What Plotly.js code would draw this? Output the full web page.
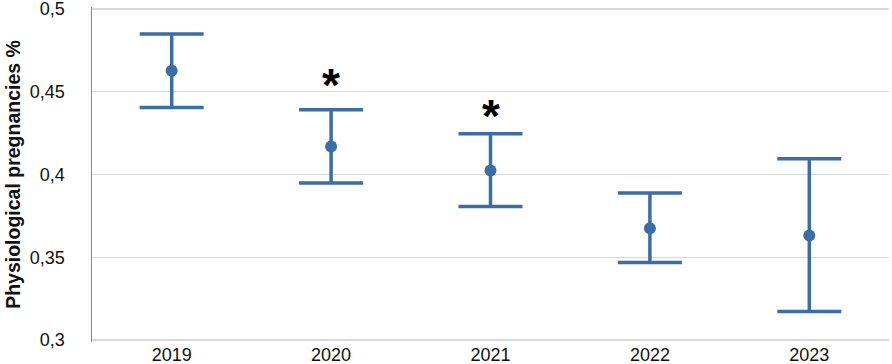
<!DOCTYPE html>
<html>
<head>
<meta charset="utf-8">
<script src="https://cdn.plot.ly/plotly-3.0.1.min.js"></script>
<style>
  html, body { margin: 0; padding: 0; background: #fff; }
  #plot { width: 892px; height: 364px; }
</style>
</head>
<body>
<div id="plot"></div>
<script>
// --- dados ---
const years = ["2019", "2020", "2021", "2022", "2023"];
const meanValues = [0.4627, 0.4169, 0.4024, 0.3675, 0.3631];
const upperValues = [0.4849, 0.4391, 0.4246, 0.3888, 0.4095];
const lowerValues = [0.4405, 0.3948, 0.3807, 0.3468, 0.3172];

// asteriscos (diferença significativa)
const starYears = ["2020", "2021"];
const starValues = [0.4542, 0.4355];

const yTickVals = [0.3, 0.35, 0.4, 0.45, 0.5];
const yTickText = ["0,3", "0,35", "0,4", "0,45", "0,5"];

const blue = "#3b6ea5";
const yRange = [0.2988, 0.5012];

// posições das categorias no eixo x
const xPos = years.map((_, i) => i);

const trace = {
    x: xPos,
    y: meanValues,
    type: "scatter",
    mode: "markers",
    marker: { color: blue, size: 12 },
    error_y: {
        type: "data",
        symmetric: false,
        array: upperValues.map((u, i) => u - meanValues[i]),
        arrayminus: meanValues.map((m, i) => m - lowerValues[i]),
        color: blue,
        thickness: 3.5,
        width: 32
    },
    hoverinfo: "y"
};

const layout = {
    width: 892,
    height: 364,
    margin: { l: 92, r: 3, t: 7, b: 22 },
    paper_bgcolor: "#fff",
    plot_bgcolor: "#fff",
    showlegend: false,
    font: { family: "Liberation Sans, Arial, sans-serif", color: "#111" },
    xaxis: {
        range: [-0.5, years.length - 0.5],
        tickvals: xPos,
        ticktext: years,
        showgrid: false,
        showline: false,
        zeroline: false,
        ticks: "",
        tickfont: { size: 18 },
        fixedrange: true
    },
    // eixo principal: rótulos afastados do eixo (marcas invisíveis)
    yaxis: {
        range: yRange,
        tickvals: yTickVals,
        ticktext: yTickText,
        showgrid: true,
        gridcolor: "#d9d9d9",
        gridwidth: 1.2,
        zeroline: false,
        showline: true,
        linecolor: "#888",
        linewidth: 1.5,
        ticks: "outside",
        ticklen: 22,
        tickcolor: "rgba(0,0,0,0)",
        tickfont: { size: 18 },
        ticklabeloverflow: "allow",
        title: {
            text: "<b>Physiological pregnancies %</b>",
            font: { size: 19.5 },
            standoff: 4
        },
        fixedrange: true
    },
    // eixo sobreposto só para as marcas curtas
    yaxis2: {
        overlaying: "y",
        side: "left",
        anchor: "x",
        range: yRange,
        tickvals: yTickVals,
        showticklabels: false,
        showgrid: false,
        zeroline: false,
        showline: false,
        ticks: "outside",
        ticklen: 5,
        tickcolor: "#888",
        fixedrange: true
    },
    annotations: starYears.map((yr, i) => ({
        x: years.indexOf(yr),
        y: starValues[i],
        text: "<b>*</b>",
        showarrow: false,
        font: { size: 46, color: "#000" },
        yanchor: "middle"
    }))
};

Plotly.newPlot("plot", [trace], layout, { displayModeBar: false, staticPlot: true });
</script>
</body>
</html>
